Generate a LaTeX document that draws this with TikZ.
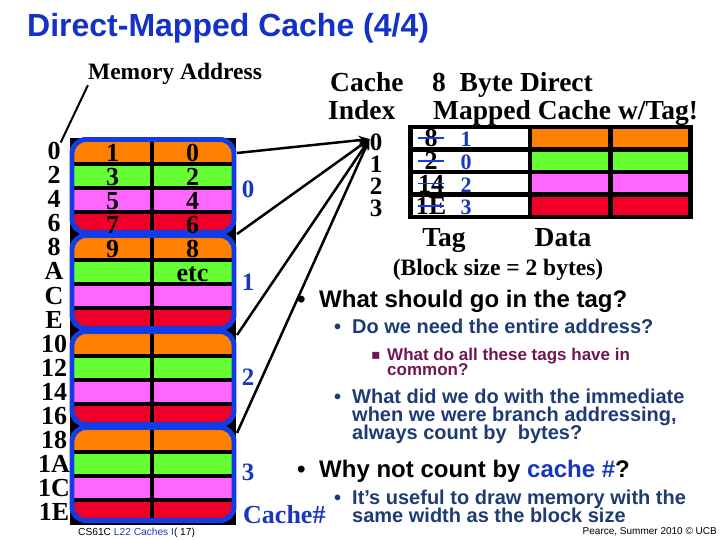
\documentclass[tikz,border=0pt]{standalone}
\usepackage{fontspec}
\setmainfont{Liberation Serif}
\setsansfont{Liberation Sans}
\newfontfamily\symfont{DejaVu Sans}
\usetikzlibrary{arrows.meta}

\definecolor{cellorange}{RGB}{255,128,0}
\definecolor{cellgreen}{RGB}{102,255,51}
\definecolor{cellpink}{RGB}{255,102,255}
\definecolor{cellred}{RGB}{240,0,40}
\definecolor{rimblue}{RGB}{20,60,230}
\definecolor{titleblue}{RGB}{20,50,200}
\definecolor{labelblue}{RGB}{25,55,190}
\definecolor{textblue}{RGB}{30,60,115}
\definecolor{textmaroon}{RGB}{115,20,85}

\newcommand{\fsz}[1]{\fontsize{#1bp}{#1bp}\selectfont}

\begin{document}
\begin{tikzpicture}[x=1bp, y=-1bp,
    every node/.style={inner sep=0, anchor=base},
    serifbig/.style={font=\bfseries\fsz{27.5}},
    addr/.style={font=\bfseries\fsz{26}},
    celltext/.style={font=\bfseries\fsz{26}},
    grp/.style={font=\bfseries\fsz{25}, text=labelblue},
    bull/.style={anchor=base west, font=\sffamily\bfseries\fsz{#1}},
  ]
  \useasboundingbox (0,0) rectangle (720,540);

  % title
  \node[anchor=base west, text=titleblue, font=\sffamily\bfseries\fsz{32}] (title) at (27,37) {Direct-Mapped Cache (4/4)};

  % memory, four blocks of four rows
  \node[font=\bfseries\fsz{23.5}] (memaddr) at (175,80) {Memory Address};
  \fill[black] (70,138) rectangle (236,525);
  \foreach \g in {0,...,3} {
    \pgfmathsetmacro{\gtop}{138+96*\g}
    \begin{scope}
      \clip[rounded corners=14] (72,\gtop+1.5) rectangle (234,\gtop+94.5);
      \foreach \r/\c in {0/cellorange, 1/cellgreen, 2/cellpink, 3/cellred} {
        \fill[\c] (72,\gtop+4+24*\r) rectangle (150,\gtop+24+24*\r);
        \fill[\c] (154,\gtop+4+24*\r) rectangle (234,\gtop+24+24*\r);
      }
    \end{scope}
    \draw[rimblue, line width=5, rounded corners=14] (72,\gtop+1.5) rectangle (234,\gtop+94.5);
  }
  \foreach \r/\lt/\rt in {0/1/0, 1/3/2, 2/5/4, 3/7/6, 4/9/8, 5//etc} {
    \node[celltext] (lc\r) at (112.5,162+24*\r) {\lt};
    \node[celltext] (rc\r) at (192.5,162+24*\r) {\rt};
  }
  \foreach \a [count=\i from 0] in {0,2,4,6,8,A,C,E,10,12,14,16,18,1A,1C,1E}
    \node[addr] (a\i) at (54,160+24*\i) {\a};
  \draw[line width=2] (memaddr.south west) -- (a0.north east);

  % cache numbers
  \foreach \g/\y in {0/198, 1/290, 2/385, 3/480}
    \node[grp] (g\g) at (248,\y) {\g};
  \node[anchor=base west, font=\bfseries\fsz{26}, text=labelblue] (cachenum) at (243,523) {Cache\#};

  % cache index
  \node[anchor=base west, serifbig] (cachelbl) at (330,92) {Cache};
  \node[anchor=base west, serifbig] (indexlbl) at (328,120) {Index};
  \foreach \i/\y in {0/151, 1/173, 2/195, 3/217}
    \node[font=\bfseries\fsz{25}] (idx\i) at (376,\y) {\i};
  \foreach \g/\y in {0/153, 1/234, 2/335, 3/433} {
    \coordinate (blk\g) at (237,\y);
    \draw[line width=2.5, -{Stealth[length=11bp, width=9bp]}] (blk\g) -- (idx0.150);
  }

  % the cache with tags
  \node[anchor=base west, serifbig] (headone) at (432,92) {8~~Byte Direct};
  \node[anchor=base west, serifbig] (headtwo) at (433,120) {Mapped Cache w/Tag!};
  \fill[black] (408,125) rectangle (693,219);
  \foreach \r/\y/\c/\old/\new in {0/129/cellorange/8/1, 1/152/cellgreen/2/0, 2/174.5/cellpink/14/2, 3/197/cellred/1E/3} {
    \fill[white] (413,\y) rectangle (528,\y+18);
    \fill[\c] (532,\y) rectangle (608,\y+18);
    \fill[\c] (613,\y) rectangle (688,\y+18);
    \node[font=\bfseries\fsz{26}] (old\r) at (431,\y+18) {\old};
    \draw[rimblue, line width=2] (418,\y+9) -- (444,\y+9);
    \node[font=\bfseries\fsz{22}, text=labelblue] (new\r) at (466,\y+18) {\new};
  }
  \node[serifbig] (taglbl) at (444,247) {Tag};
  \node[serifbig] (datalbl) at (563,247) {Data};
  \node[font=\bfseries\fsz{23.5}] (blocksize) at (498,276) {(Block size = 2 bytes)};

  % questions
  \node[bull=24] (b1) at (297,307) {•};
  \node[bull=24] (q1) at (319,307) {What should go in the tag?};
  \node[bull=20, text=textblue] (b2) at (334,333) {•};
  \node[bull=20, text=textblue] (q2) at (352,333) {Do we need the entire address?};
  \node[anchor=base west, font=\symfont\fsz{14}, text=textmaroon] (b3) at (371,359) {▪};
  \node[bull=17, text=textmaroon] (q3a) at (387,360) {What do all these tags have in};
  \node[bull=17, text=textmaroon] (q3b) at (387,375) {common?};
  \node[bull=20, text=textblue] (b4) at (334,403) {•};
  \node[bull=20, text=textblue] (q4a) at (352,403) {What did we do with the immediate};
  \node[bull=20, text=textblue] (q4b) at (352,421) {when we were branch addressing,};
  \node[bull=20, text=textblue] (q4c) at (352,439) {always count by\ \ bytes?};
  \node[bull=24] (b5) at (297,477) {•};
  \node[bull=24] (q5) at (319,477) {Why not count by \textcolor{labelblue}{cache \#}?};
  \node[bull=20, text=textblue] (b6) at (334,504) {•};
  \node[bull=20, text=textblue] (q6a) at (352,504) {It’s useful to draw memory with the};
  \node[bull=20, text=textblue] (q6b) at (352,522) {same width as the block size};

  % footer
  \node[anchor=base west, font=\sffamily\fsz{10.2}] (foot) at (78,535) {CS61C \textcolor{labelblue}{L22 Caches I}( 17)};
  \node[anchor=base east, font=\sffamily\fsz{10}] (credit) at (717,534) {Pearce, Summer 2010 © UCB};
\end{tikzpicture}
\end{document}
